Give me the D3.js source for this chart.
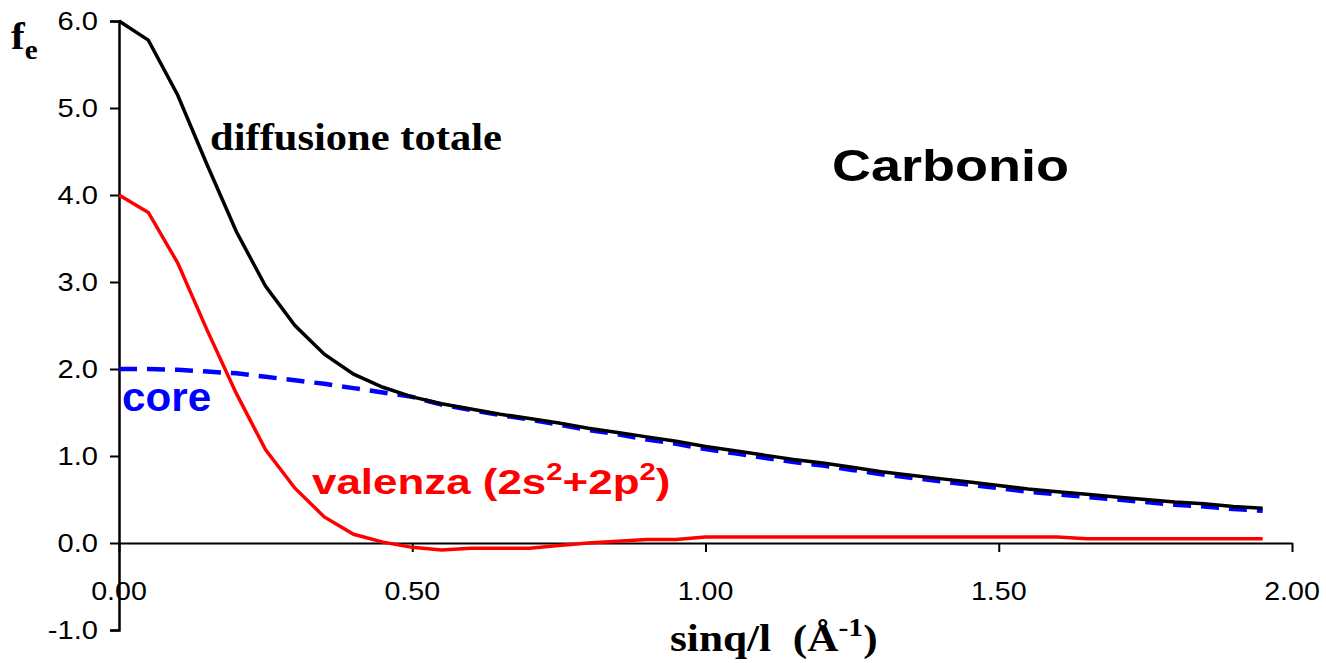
<!DOCTYPE html>
<html>
<head>
<meta charset="utf-8">
<script src="https://cdn.jsdelivr.net/npm/d3@7"></script>
<style>
  body { margin: 0; background: #fff; }
  svg { display: block; }
</style>
</head>
<body>
<div id="chart"></div>
<script>
// sin(theta)/lambda values, step 0.05
var s = [0.00, 0.05, 0.10, 0.15, 0.20, 0.25, 0.30, 0.35, 0.40, 0.45,
         0.50, 0.55, 0.60, 0.65, 0.70, 0.75, 0.80, 0.85, 0.90, 0.95,
         1.00, 1.05, 1.10, 1.15, 1.20, 1.25, 1.30, 1.35, 1.40, 1.45,
         1.50, 1.55, 1.60, 1.65, 1.70, 1.75, 1.80, 1.85, 1.90, 1.95];

var totale = [6.00, 5.78, 5.15, 4.35, 3.58, 2.95, 2.50, 2.17, 1.94, 1.79,
              1.68, 1.60, 1.54, 1.48, 1.43, 1.38, 1.32, 1.27, 1.22, 1.17,
              1.11, 1.06, 1.01, 0.96, 0.92, 0.87, 0.82, 0.78, 0.74, 0.70,
              0.66, 0.62, 0.59, 0.56, 0.53, 0.50, 0.47, 0.45, 0.42, 0.40];

var valenza = [4.00, 3.80, 3.22, 2.45, 1.72, 1.07, 0.63, 0.30, 0.10, 0.01,
               -0.05, -0.08, -0.06, -0.06, -0.06, -0.03, 0.00, 0.02, 0.04, 0.04,
               0.07, 0.07, 0.07, 0.07, 0.07, 0.07, 0.07, 0.07, 0.07, 0.07,
               0.07, 0.07, 0.07, 0.05, 0.05, 0.05, 0.05, 0.05, 0.05, 0.05];

var core = [2.00, 2.00, 1.99, 1.97, 1.95, 1.91, 1.87, 1.83, 1.78, 1.73,
            1.68, 1.59, 1.53, 1.47, 1.42, 1.36, 1.30, 1.25, 1.19, 1.14,
            1.08, 1.03, 0.98, 0.93, 0.89, 0.84, 0.79, 0.75, 0.71, 0.67,
            0.63, 0.59, 0.56, 0.53, 0.50, 0.47, 0.44, 0.42, 0.39, 0.37];

var xTicks = [0, 0.5, 1.0, 1.5, 2.0];
var yTicks = [-1, 0, 1, 2, 3, 4, 5, 6];

var width = 1326, height = 663;
var stretch = 1.15;

var svg = d3.select("#chart").append("svg")
  .attr("width", width)
  .attr("height", height);

var x = d3.scaleLinear().domain([0, 2]).range([119, 1292]);
var y = d3.scaleLinear().domain([-1, 6]).range([630, 21]);

// y axis
var yAxis = d3.axisLeft(y).tickValues(yTicks).tickSize(9).tickFormat("");
svg.append("g")
  .attr("transform", "translate(" + x(0) + ",0)")
  .call(yAxis)
  .call(g => g.select(".domain").attr("stroke", "#000").attr("stroke-width", 2.5))
  .call(g => g.selectAll(".tick line").attr("stroke", "#000").attr("stroke-width", 2));

// x axis sits on y = 0
var xAxis = d3.axisBottom(x).tickValues(xTicks).tickSize(9).tickSizeOuter(0).tickFormat("");
svg.append("g")
  .attr("transform", "translate(0," + y(0) + ")")
  .call(xAxis)
  .call(g => g.select(".domain").attr("stroke", "#000").attr("stroke-width", 2))
  .call(g => g.selectAll(".tick line").attr("stroke", "#000").attr("stroke-width", 2));

function label(px, py, opts) {
  var g = svg.append("g")
    .attr("transform", "translate(" + px + "," + py + ") scale(" + (opts.sx || stretch) + ",1)");
  return g.append("text")
    .attr("x", 0).attr("y", 0)
    .attr("xml:space", "preserve")
    .style("white-space", "pre")
    .attr("text-anchor", opts.anchor || "start")
    .attr("font-family", opts.family || "'Liberation Sans', Arial, sans-serif")
    .attr("font-size", opts.size)
    .attr("font-weight", opts.weight || "normal")
    .attr("fill", opts.fill || "#000");
}

var fmtY = function (v) { return d3.format(".1f")(v).replace("\u2212", "-"); };

// tick labels
yTicks.forEach(function (v) {
  label(98, y(v) + 9, { size: 26, anchor: "end", sx: 1.12 }).text(fmtY(v));
});
xTicks.forEach(function (v) {
  label(x(v), 600, { size: 26, anchor: "middle", sx: 1.1 }).text(d3.format(".2f")(v));
});

// lines
var line = function (vals) {
  return d3.line()
    .x(function (d, i) { return x(s[i]); })
    .y(function (d) { return y(d); })(vals);
};

svg.append("path")
  .attr("d", line(core))
  .attr("fill", "none")
  .attr("stroke", "#0000ff")
  .attr("stroke-width", 4.5)
  .attr("stroke-dasharray", "18,10");

svg.append("path")
  .attr("d", line(totale))
  .attr("fill", "none")
  .attr("stroke", "#000")
  .attr("stroke-width", 3.5);

svg.append("path")
  .attr("d", line(valenza))
  .attr("fill", "none")
  .attr("stroke", "#ff0000")
  .attr("stroke-width", 3.5);

// annotations
var serif = "'Liberation Serif', 'Times New Roman', serif";
label(210, 150, { size: 38, weight: "bold", family: serif, sx: 1.12 }).text("diffusione totale");
label(832, 181, { size: 45, weight: "bold", sx: 1.2 }).text("Carbonio");
label(122, 411, { size: 41, weight: "bold", fill: "#0000ff", sx: 1.03 }).text("core");

var val = label(312, 494, { size: 36, weight: "bold", fill: "#ff0000", sx: 1.22 });
val.append("tspan").text("valenza (2s");
val.append("tspan").attr("dy", -14).attr("font-size", 24).text("2");
val.append("tspan").attr("dy", 14).text("+2p");
val.append("tspan").attr("dy", -14).attr("font-size", 24).text("2");
val.append("tspan").attr("dy", 14).text(")");

var xt = label(670, 651, { size: 38, weight: "bold", family: serif, sx: 1.14 });
xt.append("tspan").text("sinq/l  (\u00c5");
xt.append("tspan").attr("dy", -15).attr("font-size", 26).text("-1");
xt.append("tspan").attr("dy", 15).text(")");

var fe = label(11, 49, { size: 38, weight: "bold", family: serif, sx: 1.08 });
fe.append("tspan").text("f");
fe.append("tspan").attr("dy", 10).attr("font-size", 27).text("e");
</script>
</body>
</html>
